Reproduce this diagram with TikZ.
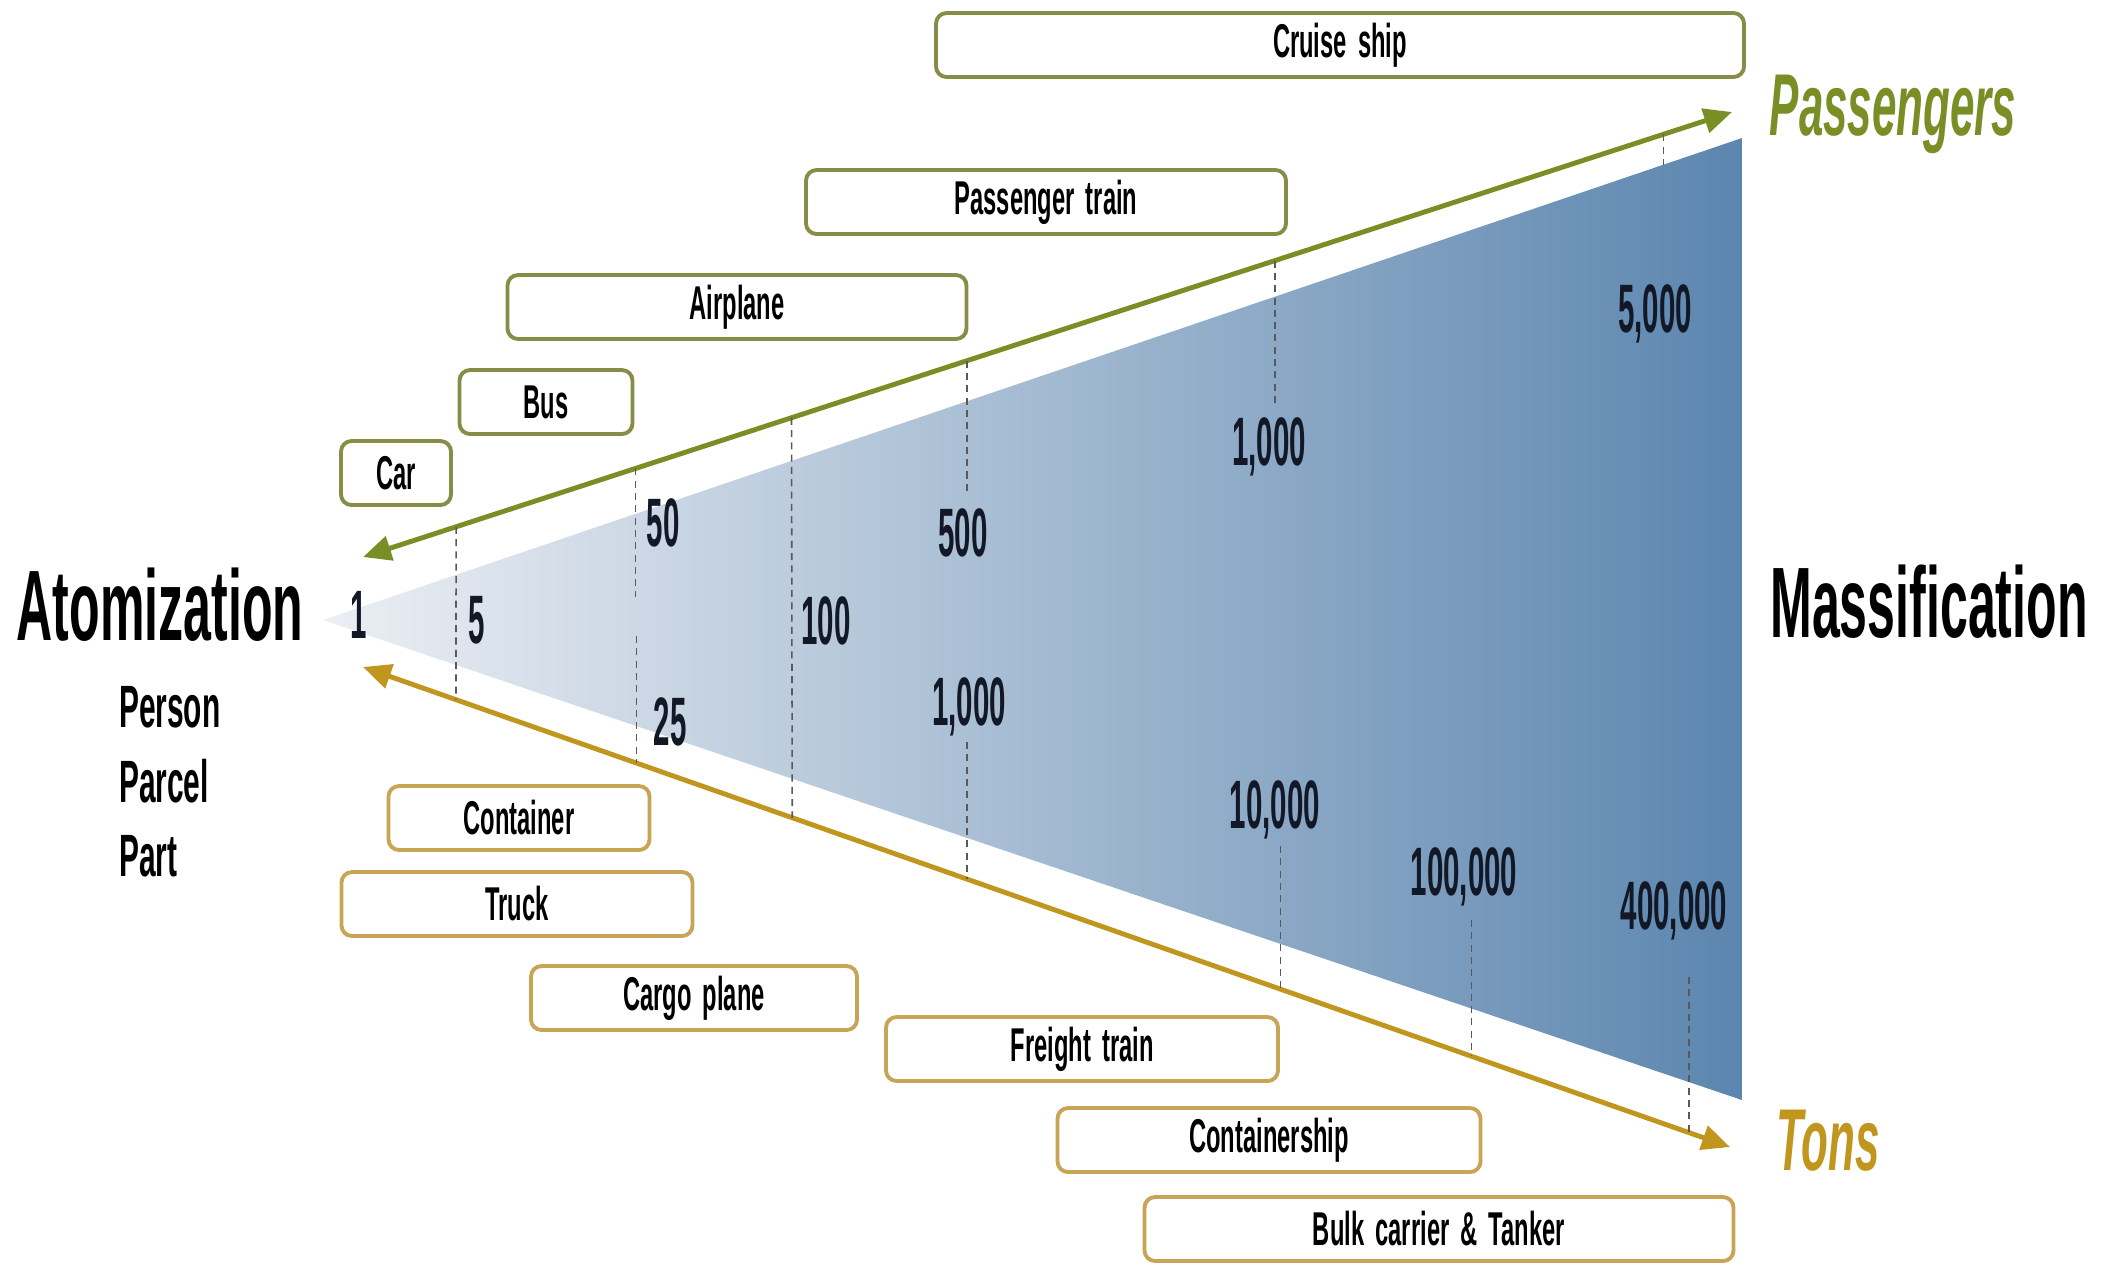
\documentclass[tikz,border=0pt]{standalone}
\usepackage{fontspec}
\usetikzlibrary{arrows.meta}

\newfontfamily\agency{Liberation Sans}[FakeStretch=0.5, WordSpace=1.7]
\newfontfamily\agencynum{Liberation Sans}[FakeStretch=0.43]

\definecolor{pasgreen}{RGB}{122,142,38}
\definecolor{tongold}{RGB}{192,150,30}
\definecolor{pasedge}{RGB}{135,140,70}
\definecolor{tonedge}{RGB}{200,165,85}
\definecolor{conelight}{RGB}{236,239,244}
\definecolor{conemid}{RGB}{178,196,215}
\definecolor{conedark}{RGB}{92,134,175}
\definecolor{numink}{RGB}{18,24,38}

\begin{document}
\begin{tikzpicture}[x=1cm,y=-1cm,
    pbox/.style={draw=pasedge, line width=1.1pt, rounded corners=3pt, fill=white,
        minimum height=0.64cm, inner sep=0pt,
        font=\agency\bfseries\fontsize{13.5}{15}\selectfont},
    tbox/.style={pbox, draw=tonedge},
    num/.style={text=numink, inner sep=1pt,
        font=\agencynum\bfseries\fontsize{19.5}{21}\selectfont},
    item/.style={anchor=west, inner sep=1pt,
        font=\agency\bfseries\fontsize{17}{19}\selectfont},
    big/.style={font=\agency\bfseries\fontsize{28.5}{32}\selectfont},
    unit/.style={font=\agency\bfseries\itshape\fontsize{25}{28}\selectfont},
    unitarrow/.style={line width=1.4pt,
        arrows={Triangle[length=8pt,width=7pt]-Triangle[length=8pt,width=7pt]}},
    tick/.style={draw=black!65, line width=0.45pt, dash pattern=on 2pt off 1.5pt}]
    \useasboundingbox (0,0) rectangle (21.23,12.66);

    % Cone
    \coordinate (apex) at (3.23,6.20);
    \coordinate (topR) at (17.42,1.38);
    \coordinate (botR) at (17.42,11.00);
    \shade[left color=conelight, middle color=conemid, right color=conedark]
        (apex) -- (topR) -- (botR) -- cycle;

    % Arrows for passengers and tons
    \coordinate (pasL) at (3.63,5.57);
    \coordinate (pasR) at (17.32,1.12);
    \coordinate (tonL) at (3.63,6.67);
    \coordinate (tonR) at (17.30,11.47);
    \draw[unitarrow, pasgreen] (pasL) -- (pasR);
    \draw[unitarrow, tongold] (tonL) -- (tonR);

    % Points on the arrows
    \path (pasL) -- (pasR)
        coordinate[pos=0.068] (p5) coordinate[pos=0.199] (p50)
        coordinate[pos=0.313] (p100) coordinate[pos=0.441] (p500)
        coordinate[pos=0.666] (p1000) coordinate[pos=0.950] (p5000);
    \path (tonL) -- (tonR)
        coordinate[pos=0.068] (t5) coordinate[pos=0.200] (t25)
        coordinate[pos=0.314] (t100) coordinate[pos=0.442] (t1000)
        coordinate[pos=0.671] (t10000) coordinate[pos=0.811] (t100000)
        coordinate[pos=0.970] (t400000);

    % Dashed ticks
    \draw[tick] (p5) -- (t5);
    \draw[tick] (p50) -- (p50 |- 0,5.97);
    \draw[tick] (t25 |- 0,6.36) -- (t25);
    \draw[tick] (p100) -- (t100);
    \draw[tick] (p500) -- (p500 |- 0,4.94);
    \draw[tick] (t1000 |- 0,7.42) -- (t1000);
    \draw[tick] (p1000) -- (p1000 |- 0,4.06);
    \draw[tick] (p5000) -- (p5000 |- 0,1.65);
    \draw[tick] (t10000 |- 0,8.46) -- (t10000);
    \draw[tick] (t100000 |- 0,9.20) -- (t100000);
    \draw[tick] (t400000 |- 0,9.77) -- (t400000);

    % Numbers
    \node[num] (n1) at (3.59,6.15) {1};
    \node[num] (n5) at (4.77,6.20) {5};
    \node[num] (n50) at (6.63,5.23) {50};
    \node[num] (n25) at (6.70,7.22) {25};
    \node[num] (n100) at (8.26,6.21) {100};
    \node[num] (n500) at (9.63,5.33) {500};
    \node[num] (n1000t) at (9.69,7.07) {1,000};
    \node[num] (n1000p) at (12.69,4.47) {1,000};
    \node[num] (n10000) at (12.75,8.10) {10,000};
    \node[num] (n5000) at (16.55,3.14) {5,000};
    \node[num] (n100000) at (14.64,8.77) {100,000};
    \node[num] (n400000) at (16.74,9.11) {400,000};

    % Passenger modes
    \node[pbox, minimum width=8.08cm] (cruise) at (13.40,0.45) {Cruise ship};
    \node[pbox, minimum width=4.80cm] (ptrain) at (10.46,2.02) {Passenger train};
    \node[pbox, minimum width=4.59cm] (airplane) at (7.37,3.07) {Airplane};
    \node[pbox, minimum width=1.73cm] (bus) at (5.46,4.02) {Bus};
    \node[pbox, minimum width=1.10cm] (car) at (3.96,4.73) {Car};

    % Freight modes
    \node[tbox, minimum width=2.61cm] (container) at (5.19,8.18) {Container};
    \node[tbox, minimum width=3.51cm] (truck) at (5.17,9.04) {Truck};
    \node[tbox, minimum width=3.26cm] (cplane) at (6.94,9.98) {Cargo plane};
    \node[tbox, minimum width=3.92cm] (ftrain) at (10.82,10.49) {Freight train};
    \node[tbox, minimum width=4.23cm] (cship) at (12.69,11.40) {Containership};
    \node[tbox, minimum width=5.89cm] (bulk) at (14.39,12.29) {Bulk carrier \& Tanker};

    % Side labels
    \node[big] (atom) at (1.60,6.05) {Atomization};
    \node[big] (mass) at (19.29,6.02) {Massification};
    \node[item] (person) at (1.15,7.07) {Person};
    \node[item] (parcel) at (1.15,7.81) {Parcel};
    \node[item] (part) at (1.15,8.56) {Part};
    \node[unit, text=pasgreen] (pas) at (18.93,1.14) {Passengers};
    \node[unit, text=tongold] (tons) at (18.28,11.41) {Tons};
\end{tikzpicture}
\end{document}
